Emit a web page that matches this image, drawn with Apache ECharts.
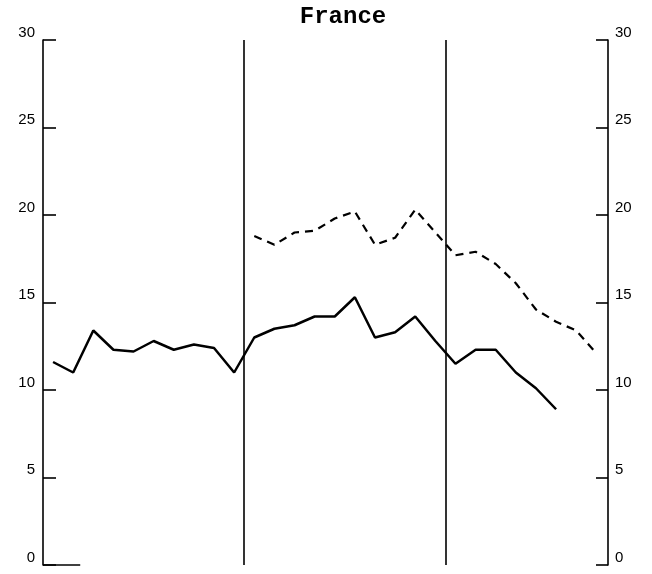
<!DOCTYPE html>
<html>
<head>
<meta charset="utf-8">
<style>
  html, body { margin: 0; padding: 0; background: #ffffff; }
  #chart { width: 652px; height: 574px; }
</style>
<script src="https://cdn.jsdelivr.net/npm/echarts@6/dist/echarts.min.js"></script>
</head>
<body>
<div id="chart"></div>
<script>
// Period index along the horizontal axis (no labels are drawn for it)
const solidStart = 0;
const solidValues = [11.6, 11.0, 13.4, 12.3, 12.2, 12.8, 12.3, 12.6, 12.4, 11.0,
                     13.0, 13.5, 13.7, 14.2, 14.2, 15.3, 13.0, 13.3, 14.2, 12.8,
                     11.5, 12.3, 12.3, 11.0, 10.1, 8.9];
const dashedStart = 10;
const dashedValues = [18.8, 18.3, 19.0, 19.1, 19.8, 20.2, 18.3, 18.7, 20.3, 19.0,
                      17.7, 17.9, 17.2, 16.1, 14.6, 13.9, 13.4, 12.1];
// Period boundaries marked by vertical rules
const dividers = [9.5, 19.5];
// Value axis ticks
const yMin = 0, yMax = 30, yStep = 5;
const chartTitle = 'France';

const toPairs = (start, vals) => vals.map((v, i) => [start + i, v]);

const chart = echarts.init(document.getElementById('chart'), null, { renderer: 'canvas' });

const valueAxis = (pos) => ({
  type: 'value',
  position: pos,
  min: yMin,
  max: yMax,
  interval: yStep,
  splitLine: { show: false },
  axisLine: { show: true, onZero: false, lineStyle: { color: '#000', width: 1.6 } },
  axisTick: { show: true, inside: true, length: pos === 'left' ? 13 : 12, lineStyle: { color: '#000', width: 1.6 } },
  axisLabel: {
    color: '#000',
    fontFamily: 'Liberation Sans',
    fontSize: 15,
    margin: pos === 'left' ? 8 : 7,
    verticalAlign: 'bottom'
  }
});

chart.setOption({
  animation: false,
  backgroundColor: '#ffffff',
  title: {
    text: chartTitle,
    left: 338,
    textAlign: 'center',
    top: 0,
    textStyle: {
      fontFamily: 'Liberation Mono',
      fontWeight: 'bold',
      fontSize: 24,
      color: '#000'
    }
  },
  grid: { left: 43, right: 44, top: 40, bottom: 9 },
  xAxis: {
    type: 'value',
    min: -0.5,
    max: 27.58,
    show: false
  },
  yAxis: [valueAxis('left'), valueAxis('right')],
  series: [
    {
      type: 'line',
      data: toPairs(solidStart, solidValues),
      symbol: 'none',
      lineStyle: { color: '#000', width: 2.5 },
      markLine: {
        silent: true,
        symbol: 'none',
        label: { show: false },
        lineStyle: { color: '#000', width: 1.6, type: 'solid' },
        data: [
          ...dividers.map(d => ({ xAxis: d })),
          [{ coord: [-0.5, yMin] }, { coord: [1.35, yMin] }]
        ]
      }
    },
    {
      type: 'line',
      data: toPairs(dashedStart, dashedValues),
      symbol: 'none',
      lineStyle: { color: '#000', width: 2.2, type: [8, 6] }
    }
  ]
});
</script>
</body>
</html>
